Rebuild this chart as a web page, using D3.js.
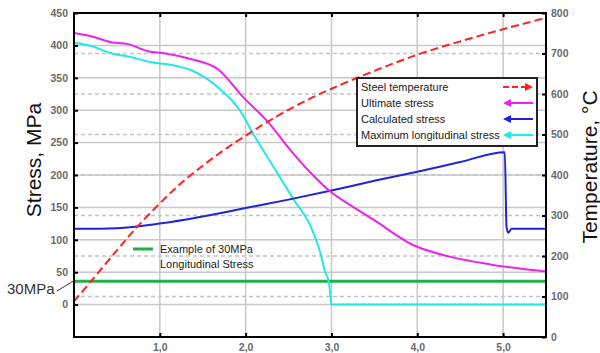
<!DOCTYPE html>
<html>
<head>
<meta charset="utf-8">
<script src="https://cdn.jsdelivr.net/npm/d3@7"></script>
<style>
  body { margin: 0; background: #fff; }
  svg { display: block; }
</style>
</head>
<body>
<svg id="chart" width="600" height="353"></svg>
<script>
// time axis (hours) and series
const tempX = [0, 0.2, 0.5, 0.72, 1.0, 1.25, 1.5, 1.75, 2.0, 2.3, 2.65, 3.0, 3.5, 4.0, 4.5, 5.0, 5.5];
const tempY = [88, 138, 214, 268, 330, 380, 423, 462, 497, 537, 578, 613, 657, 697, 730, 760, 788];

const ultX = [0, 0.2, 0.43, 0.63, 0.86, 1.05, 1.36, 1.67, 1.98, 2.26, 2.5, 2.76, 2.99, 3.2, 3.49, 3.95, 4.38, 4.85, 5.5];
const ultY = [419, 414, 405, 402, 391, 388, 379, 364, 319, 282, 242, 203, 174, 155, 131, 92, 74, 62, 51];

const calcX = [0, 0.5, 1.0, 1.5, 2.0, 2.5, 3.0, 3.5, 4.0, 4.5, 5.02, 5.04, 5.06, 5.1, 5.5];
const calcY = [117, 118, 125, 136, 149, 162, 176, 191, 205, 220, 235, 120, 111, 117, 117];

const maxX = [0, 0.2, 0.43, 0.66, 0.9, 1.13, 1.36, 1.67, 1.98, 2.06, 2.3, 2.56, 2.76, 2.87, 2.93, 2.97, 2.99, 3.0, 5.5];
const maxY = [404, 399, 388, 382, 374, 370, 362, 336, 290, 270, 218, 162, 120, 80, 49, 35, 10, 0, 0];

const exampleStress = 36;

const xTicks = [1, 2, 3, 4, 5];
const stressTicks = [0, 50, 100, 150, 200, 250, 300, 350, 400, 450];
const tempTicks = [0, 100, 200, 300, 400, 500, 600, 700, 800];

const legendItems = [
  { label: "Steel temperature", color: "#ff2222", dashed: true, dir: "right" },
  { label: "Ultimate stress", color: "#ee22ee", dashed: false, dir: "left" },
  { label: "Calculated stress", color: "#2222dd", dashed: false, dir: "left" },
  { label: "Maximum longitudinal stress", color: "#22e8e8", dashed: false, dir: "left" }
];

const svg = d3.select("#chart");
const plot = { left: 74, right: 546, top: 13, bottom: 337 };

const x = d3.scaleLinear().domain([0, 5.5]).range([plot.left, plot.right]);
const yL = d3.scaleLinear().domain([-50, 450]).range([plot.bottom, plot.top]);
const yR = d3.scaleLinear().domain([0, 800]).range([plot.bottom, plot.top]);

const tickFont = "'Liberation Sans', Arial, sans-serif";

// grid
const grid = svg.append("g");
grid.selectAll(".gs").data(stressTicks).join("line")
  .attr("x1", plot.left).attr("x2", plot.right)
  .attr("y1", d => yL(d)).attr("y2", d => yL(d))
  .attr("stroke", "#c8c8c8").attr("stroke-width", 1.5);
grid.selectAll(".gt").data(tempTicks.slice(1, -1)).join("line")
  .attr("x1", plot.left).attr("x2", plot.right)
  .attr("y1", d => yR(d)).attr("y2", d => yR(d))
  .attr("stroke", "#c4c4c4").attr("stroke-width", 1.3)
  .attr("stroke-dasharray", "4,3");
grid.selectAll(".gx").data(xTicks).join("line")
  .attr("x1", d => x(d)).attr("x2", d => x(d))
  .attr("y1", plot.top).attr("y2", plot.bottom)
  .attr("stroke", "#c8c8c8").attr("stroke-width", 1.5);

// series
function drawLine(xs, ys, scale, color, width, dash, curve) {
  const pts = xs.map((d, i) => [d, ys[i]]);
  const line = d3.line().x(d => x(d[0])).y(d => scale(d[1])).curve(curve || d3.curveMonotoneX);
  const p = svg.append("path").datum(pts)
    .attr("d", line)
    .attr("fill", "none")
    .attr("stroke", color)
    .attr("stroke-width", width)
    .attr("stroke-linejoin", "round");
  if (dash) p.attr("stroke-dasharray", dash);
}

svg.append("line")
  .attr("x1", x(0)).attr("x2", x(5.5))
  .attr("y1", yL(exampleStress)).attr("y2", yL(exampleStress))
  .attr("stroke", "#22b04a").attr("stroke-width", 3);

drawLine(maxX, maxY, yL, "#22e8e8", 2);
drawLine(calcX, calcY, yL, "#2222dd", 2);
drawLine(ultX, ultY, yL, "#ee22ee", 2);
drawLine(tempX, tempY, yR, "#ff2222", 2, "8,4", d3.curveCatmullRom.alpha(0.5));

// axes
const fmtX = d => d3.format(".1f")(d).replace(".", ",");

const axL = svg.append("g").attr("transform", `translate(${plot.left},0)`)
  .call(d3.axisLeft(yL).tickValues(stressTicks).tickSizeInner(-4).tickSizeOuter(0).tickPadding(6));
const axR = svg.append("g").attr("transform", `translate(${plot.right},0)`)
  .call(d3.axisRight(yR).tickValues(tempTicks).tickSizeInner(-4).tickSizeOuter(0).tickPadding(5));
const axB = svg.append("g").attr("transform", `translate(0,${plot.bottom})`)
  .call(d3.axisBottom(x).tickValues(xTicks).tickFormat(fmtX).tickSizeInner(-4).tickSizeOuter(0).tickPadding(7));
const axT = svg.append("g").attr("transform", `translate(0,${plot.top})`)
  .call(d3.axisTop(x).tickValues(xTicks).tickFormat("").tickSizeInner(-4).tickSizeOuter(0));

[axL, axR, axB, axT].forEach(a => {
  a.select(".domain").remove();
  a.selectAll(".tick line").attr("stroke", "#000").attr("stroke-width", 2);
  a.selectAll("text")
    .attr("fill", "#6a6a6a")
    .style("font-family", tickFont)
    .style("font-size", "10.5px")
    .style("font-weight", "700");
});

svg.append("rect")
  .attr("x", plot.left).attr("y", plot.top)
  .attr("width", plot.right - plot.left).attr("height", plot.bottom - plot.top)
  .attr("fill", "none").attr("stroke", "#000").attr("stroke-width", 2);

// axis titles
svg.append("text")
  .attr("transform", "translate(41,160) rotate(-90)")
  .attr("text-anchor", "middle")
  .attr("fill", "#111")
  .style("font-family", tickFont)
  .style("font-size", "21px")
  .text("Stress, MPa");

svg.append("text")
  .attr("transform", "translate(597,167) rotate(-90)")
  .attr("text-anchor", "middle")
  .attr("fill", "#111")
  .style("font-family", tickFont)
  .style("font-size", "21px")
  .text("Temperature, °C");

// 30MPa callout
svg.append("text")
  .attr("x", 7).attr("y", 294)
  .attr("fill", "#333")
  .style("font-family", tickFont)
  .style("font-size", "15px")
  .text("30MPa");
svg.append("line")
  .attr("x1", 57).attr("y1", 291).attr("x2", 73).attr("y2", yL(exampleStress))
  .attr("stroke", "#333").attr("stroke-width", 1);

// example annotation
svg.append("line")
  .attr("x1", 133).attr("x2", 153).attr("y1", 249).attr("y2", 249)
  .attr("stroke", "#22b04a").attr("stroke-width", 3);
svg.append("text")
  .attr("x", 160).attr("y", 253)
  .attr("fill", "#222")
  .style("font-family", tickFont)
  .style("font-size", "11px")
  .text("Example of 30MPa");
svg.append("text")
  .attr("x", 160).attr("y", 268)
  .attr("fill", "#222")
  .style("font-family", tickFont)
  .style("font-size", "11px")
  .text("Longitudinal Stress");

// legend
const lg = svg.append("g");
lg.append("rect")
  .attr("x", 357).attr("y", 78).attr("width", 180).attr("height", 68)
  .attr("fill", "#fff").attr("stroke", "#222").attr("stroke-width", 2);

legendItems.forEach((d, i) => {
  const cy = 87 + i * 16;
  lg.append("text")
    .attr("x", 361).attr("y", cy + 4)
    .attr("fill", "#222")
    .style("font-family", tickFont)
    .style("font-size", "11px")
    .text(d.label);
  if (d.dir === "right") {
    lg.append("line")
      .attr("x1", 503).attr("x2", 526).attr("y1", cy).attr("y2", cy)
      .attr("stroke", d.color).attr("stroke-width", 2)
      .attr("stroke-dasharray", d.dashed ? "6,3" : null);
    lg.append("path")
      .attr("d", `M${533},${cy} L${525},${cy - 4} L${525},${cy + 4} Z`)
      .attr("fill", d.color);
  } else {
    lg.append("line")
      .attr("x1", 509).attr("x2", 533).attr("y1", cy).attr("y2", cy)
      .attr("stroke", d.color).attr("stroke-width", 2);
    lg.append("path")
      .attr("d", `M${503},${cy} L${511},${cy - 4} L${511},${cy + 4} Z`)
      .attr("fill", d.color);
  }
});
</script>
</body>
</html>
